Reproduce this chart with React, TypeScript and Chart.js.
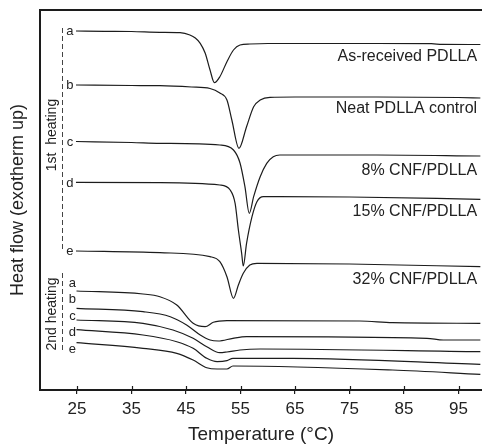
import React, { useEffect, useRef } from "react";
import { Chart, registerables } from "chart.js";

Chart.register(...registerables);

// Temperature (°C) vs heat flow (arbitrary units, exotherm up, curves offset)
const heat1A: [number, number][] = [[24.8,359],[30,358.7],[35,358.5],[40.2,357.7],[43.9,357.3],[45.7,355],[46.7,352],[47.6,346.7],[48.5,337],[49.4,320],[50.2,307.3],[51.2,313.3],[52.5,328.3],[53.7,340],[54.9,345],[56.7,346],[60,346.5],[70,346.5],[80,346.5],[90,346.3],[92,345.6],[99,345.5]];
const heat1B: [number, number][] = [[24.8,305],[35,304.5],[40.2,304.3],[46,303],[49.4,301.5],[51.2,297],[52.5,290],[53.4,270],[54.7,241.7],[56.1,263.3],[57.4,283.3],[58.6,290],[60.4,292.7],[65,293],[80,293],[95,292.5],[99,292]];
const heat1C: [number, number][] = [[24.8,248.5],[35,247.5],[40.2,246.7],[51.2,245],[53.7,240],[54.9,227],[55.8,203.3],[56.6,176.7],[57.4,193.3],[58.6,213.3],[59.8,226.7],[61,233.3],[62.2,235],[80,235],[99,234]];
const heat1D: [number, number][] = [[24.8,207.7],[40.2,207.3],[51.2,205],[53.1,200],[54,186.7],[54.6,160],[55.2,136.7],[55.5,124],[56.1,146.7],[57.1,173.3],[58,188.3],[59.2,193.3],[75,193],[99,190.7]];
const heat1E: [number, number][] = [[24.8,139],[40.2,137.3],[49.4,133.3],[51.2,128.3],[52.5,113.3],[53.7,91.7],[54.6,105],[55.5,116.7],[56.7,125],[58,126.7],[75,126],[99,123.3]];

const heat2A: [number, number][] = [[24.9,99],[37.1,96],[40.2,93.3],[43.3,85],[46.3,66.7],[48.5,63.3],[50,67.7],[52.5,69.3],[76.9,69],[82.9,67.3],[99,66.7]];
const heat2B: [number, number][] = [[24.9,81.7],[37.1,78.3],[42.1,73.3],[45.1,65],[47.6,55],[49.4,50],[50.9,49],[53.6,51.7],[56.1,53.3],[89.2,51.7],[92.2,50],[99,50]];
const heat2C: [number, number][] = [[24.9,70],[37.1,66.7],[42.6,60],[46.3,51.7],[48.8,43.3],[51.2,37.3],[52.5,38],[54.9,40],[58.6,41],[99,38.3]];
const heat2D: [number, number][] = [[24.9,60.3],[37.1,55],[43.3,48.3],[46.3,41.7],[48.8,31.7],[50.7,28.3],[52.5,29.3],[53.6,31.7],[64.6,31.7],[99,25.7]];
const heat2E: [number, number][] = [[24.9,47.3],[37.1,41.7],[43.3,36.7],[46.3,30],[48.8,22.3],[50.7,21],[52.5,21],[53.6,24],[82.9,20],[99,15.7]];

const xTicks = [25, 35, 45, 55, 65, 75, 85, 95];
const sampleNames = ["As-received PDLLA", "Neat PDLLA control", "8% CNF/PDLLA", "15% CNF/PDLLA", "32% CNF/PDLLA"];
const curveLetters = ["a", "b", "c", "d", "e"];

const FONT = "'Liberation Sans', Arial, Helvetica, sans-serif";
const INK = "#1c1c1c";

const firstHeating = [heat1A, heat1B, heat1C, heat1D, heat1E];
const secondHeating = [heat2A, heat2B, heat2C, heat2D, heat2E];

// annotation anchor values (in data units)
const nameLabelHF = [333.3, 281.7, 219, 178.3, 110];
const letter1HF = [359, 305, 248, 207, 139];
const letter2HF = [107, 90.5, 73.5, 57.5, 41];

const annotate = {
  id: "annotate",
  afterDatasetsDraw(chart: any) {
    const { ctx, chartArea, scales } = chart;
    const xs = scales.x;
    const ys = scales.y;
    ctx.save();
    // top frame line
    ctx.strokeStyle = INK;
    ctx.lineWidth = 2;
    ctx.beginPath();
    ctx.moveTo(chartArea.left - 1, chartArea.top);
    ctx.lineTo(chart.width, chartArea.top);
    ctx.stroke();
    // inward tick halves
    ctx.lineWidth = 1.2;
    xTicks.forEach((t) => {
      const px = Math.round(xs.getPixelForValue(t)) + 0.5;
      ctx.beginPath();
      ctx.moveTo(px, chartArea.bottom);
      ctx.lineTo(px, chartArea.bottom - 4);
      ctx.stroke();
    });
    // dashed grouping lines
    ctx.strokeStyle = "#444";
    ctx.lineWidth = 1;
    ctx.setLineDash([5, 3]);
    const dx = Math.round(xs.getPixelForValue(22.25)) + 0.5;
    ctx.beginPath();
    ctx.moveTo(dx, ys.getPixelForValue(362));
    ctx.lineTo(dx, ys.getPixelForValue(138));
    ctx.moveTo(dx, ys.getPixelForValue(117));
    ctx.lineTo(dx, ys.getPixelForValue(38));
    ctx.stroke();
    ctx.setLineDash([]);
    // rotated group labels
    ctx.fillStyle = "#222";
    ctx.font = `14px ${FONT}`;
    ctx.textAlign = "center";
    ctx.textBaseline = "middle";
    const gx = xs.getPixelForValue(20.4);
    [["1st  heating", 255], ["2nd heating", 76]].forEach(([txt, hf]) => {
      ctx.save();
      ctx.translate(gx, ys.getPixelForValue(hf as number));
      ctx.rotate(-Math.PI / 2);
      ctx.fillText(txt as string, 0, 0);
      ctx.restore();
    });
    // curve letters
    ctx.font = `13px ${FONT}`;
    curveLetters.forEach((l, i) => {
      ctx.fillText(l, xs.getPixelForValue(23.7), ys.getPixelForValue(letter1HF[i]));
      ctx.fillText(l, xs.getPixelForValue(24.15), ys.getPixelForValue(letter2HF[i]));
    });
    // sample names
    ctx.font = `16px ${FONT}`;
    ctx.textAlign = "right";
    sampleNames.forEach((n, i) => {
      ctx.fillText(n, xs.getPixelForValue(98.4), ys.getPixelForValue(nameLabelHF[i]));
    });
    ctx.restore();
  },
};

export default function App() {
  const ref = useRef<HTMLCanvasElement>(null);
  useEffect(() => {
    if (!ref.current) return;
    const toPts = (arr: [number, number][]) => arr.map(([x, y]) => ({ x, y }));
    const datasets = [...firstHeating, ...secondHeating].map((arr) => ({
      data: toPts(arr),
      borderColor: INK,
      borderWidth: 1.2,
      pointRadius: 0,
      fill: false,
      cubicInterpolationMode: "monotone" as const,
    }));
    const chart = new Chart(ref.current, {
      type: "line",
      data: { datasets },
      options: {
        animation: false,
        responsive: false,
        layout: { padding: { top: 10, right: 0, left: 0, bottom: 0 } },
        plugins: { legend: { display: false }, tooltip: { enabled: false } },
        scales: {
          x: {
            type: "linear",
            min: 18.2,
            max: 99.3,
            afterBuildTicks: (s: any) => {
              s.ticks = xTicks.map((v) => ({ value: v }));
            },
            afterFit: (s: any) => {
              s.height = 57;
            },
            grid: { display: true, drawOnChartArea: false, drawTicks: true, tickLength: 4, color: INK, lineWidth: 1.2 },
            border: { display: true, color: INK, width: 2 },
            ticks: {
              autoSkip: false,
              maxRotation: 0,
              padding: 5,
              color: "#222",
              font: { family: FONT, size: 17 },
              callback: (v: any) => String(v),
            },
            title: {
              display: true,
              text: "Temperature (°C)",
              color: "#222",
              font: { family: FONT, size: 19 },
              padding: { top: 0, bottom: 1 },
            },
          },
          y: {
            type: "linear",
            min: 0,
            max: 380,
            afterFit: (s: any) => {
              s.width = 40;
            },
            grid: { display: false },
            border: { display: true, color: INK, width: 2 },
            ticks: { display: false },
            title: {
              display: true,
              text: "Heat flow (exotherm up)",
              color: "#222",
              font: { family: FONT, size: 18 },
              padding: { top: 7, bottom: 0 },
            },
          },
        },
      },
      plugins: [annotate],
    });
    return () => chart.destroy();
  }, []);
  return (
    <div style={{ position: "fixed", left: 0, top: 0, width: 482, height: 447, background: "#fff" }}>
      <canvas ref={ref} width={482} height={447} style={{ display: "block" }} />
    </div>
  );
}
